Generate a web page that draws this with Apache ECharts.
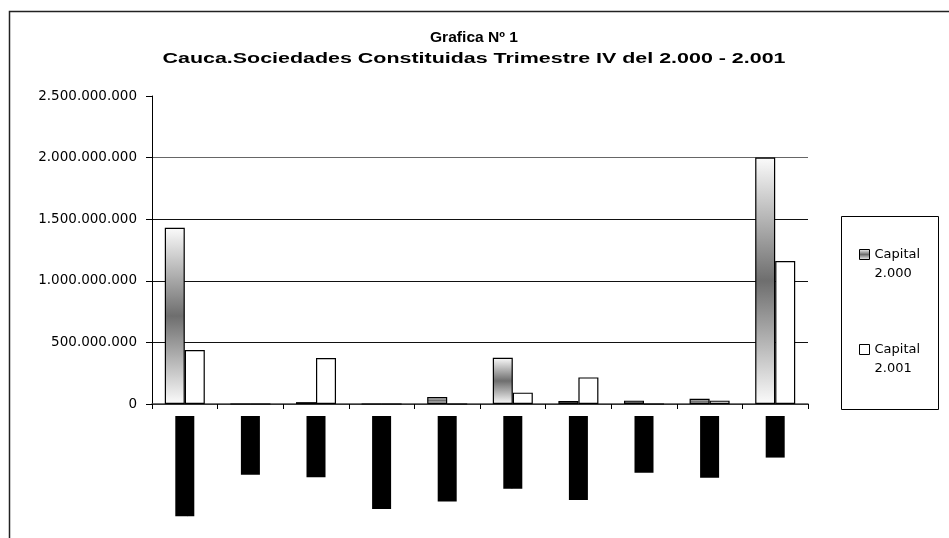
<!DOCTYPE html>
<html>
<head>
<meta charset="utf-8">
<script src="https://cdn.jsdelivr.net/npm/echarts@6/dist/echarts.min.js"></script>
<style>
  html, body { margin: 0; padding: 0; background: #fff; }
  #chart { width: 949px; height: 538px; }
</style>
</head>
<body>
<div id="chart"></div>
<script>
// datos de la grafica
var categorias = ['Agropecuario y caza', 'Minas y gas', 'Manufactura', 'Electricidad y agua', 'Construcción civil',
  'Comercio local', 'Transporte aéreo', 'Financieras', 'Inmobiliarias', 'Hogares'];
var capital2000 = [1430000000, 0, 15000000, 0, 57000000, 375000000, 24000000, 27000000, 43000000, 2000000000];
var capital2001 = [438000000, 0, 373000000, 0, 0, 92000000, 216000000, 0, 27000000, 1160000000];
var ejeY = [0, 500000000, 1000000000, 1500000000, 2000000000, 2500000000];

var titulo = 'Grafica Nº 1';
var subtitulo = 'Cauca.Sociedades Constituidas Trimestre IV del 2.000 - 2.001';

var fuente = '"Liberation Sans", Arial, sans-serif';
var fuenteAncha = '"DejaVu Sans", sans-serif';

// ancho de texto para estirar el titulo (espaciado de letras)
function medir (txt, font) {
  var ctx = document.createElement('canvas').getContext('2d');
  ctx.font = font;
  return ctx.measureText(txt).width;
}
var fontTitulo = 'bold 14px ' + fuente;
var escala1 = 88 / medir(titulo, fontTitulo);
var escala2 = 623 / medir(subtitulo, fontTitulo);

function puntos (v) {
  return String(v).replace(/\B(?=(\d{3})+(?!\d))/g, '.');
}

var chart = echarts.init(document.getElementById('chart'), null, { renderer: 'canvas' });

var option = {
  backgroundColor: '#fff',
  animation: false,
  textStyle: { fontFamily: fuente },
  graphic: [
    {
      type: 'rect', silent: true,
      shape: { x: 9.5, y: 11.5, width: 1000, height: 600 },
      style: { fill: 'none', stroke: '#222', lineWidth: 1.5 }
    },
    {
      type: 'rect', silent: true,
      shape: { x: 841.5, y: 216.5, width: 97, height: 193 },
      style: { fill: 'none', stroke: '#000', lineWidth: 1 }
    },
    {
      type: 'text', silent: true, x: 474, y: 38, scaleX: escala1,
      style: { text: titulo, font: fontTitulo, fill: '#000', align: 'center', verticalAlign: 'middle' }
    },
    {
      type: 'text', silent: true, x: 474, y: 59, scaleX: escala2,
      style: { text: subtitulo, font: fontTitulo, fill: '#000', align: 'center', verticalAlign: 'middle' }
    }
  ],
  legend: {
    orient: 'vertical',
    left: 854,
    top: 221,
    itemWidth: 10,
    itemHeight: 10,
    itemGap: 38,
    icon: 'rect',
    itemStyle: { borderColor: '#000', borderWidth: 1 },
    // linea en blanco arriba para que el icono quede junto a la primera linea
    formatter: function (name) { return '\n' + name; },
    textStyle: { fontSize: 13, color: '#000', lineHeight: 19, fontFamily: fuenteAncha },
    data: ['Capital\n2.000', 'Capital\n2.001']
  },
  grid: { left: 152, right: 141, top: 96, bottom: 134 },
  xAxis: {
    type: 'category',
    data: categorias,
    axisLine: { lineStyle: { color: '#444', width: 1.5 } },
    axisTick: { show: true, length: 5, lineStyle: { color: '#000' } },
    axisLabel: {
      interval: 0, rotate: 90, margin: 12,
      fontSize: 11, color: '#000', backgroundColor: '#000',
      lineHeight: 19, padding: 0
    }
  },
  yAxis: {
    type: 'value',
    min: ejeY[0],
    max: ejeY[ejeY.length - 1],
    interval: ejeY[1] - ejeY[0],
    axisLine: { show: true, lineStyle: { color: '#000', width: 1 } },
    axisTick: { show: true, length: 6, lineStyle: { color: '#000' } },
    axisLabel: { color: '#000', fontSize: 13.5, margin: 15, fontFamily: fuenteAncha, formatter: puntos },
    splitLine: {
      show: true,
      lineStyle: { color: ['#000', '#111', '#111', '#111', '#666', 'rgba(0,0,0,0)'], width: 1 }
    }
  },
  series: [
    {
      name: 'Capital\n2.000',
      type: 'bar',
      barGap: '0%',
      barCategoryGap: '39%',
      data: capital2000,
      itemStyle: {
        borderColor: '#000',
        borderWidth: 1.2,
        color: new echarts.graphic.LinearGradient(0, 0, 0, 1, [
          { offset: 0, color: '#fbfbfb' },
          { offset: 0.5, color: '#6e6e6e' },
          { offset: 1, color: '#fbfbfb' }
        ])
      }
    },
    {
      name: 'Capital\n2.001',
      type: 'bar',
      data: capital2001,
      itemStyle: { color: '#fff', borderColor: '#000', borderWidth: 1.2 }
    }
  ]
};

chart.setOption(option);
</script>
</body>
</html>
